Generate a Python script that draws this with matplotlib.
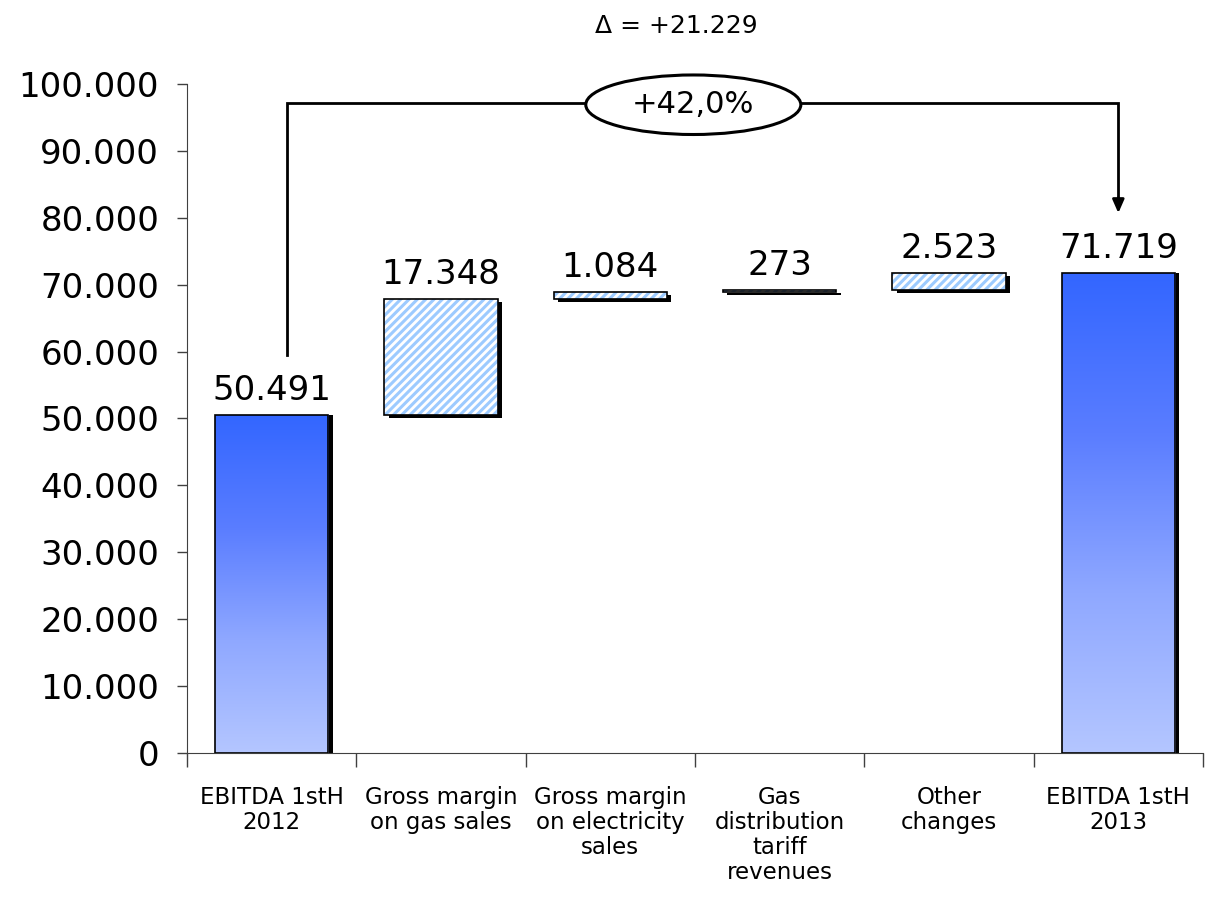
import numpy as np
import matplotlib
matplotlib.use("Agg")
import matplotlib.pyplot as plt
from matplotlib.patches import Ellipse
from matplotlib.colors import LinearSegmentedColormap

# ---- data ----
categories = ["EBITDA 1stH\n2012", "Gross margin\non gas sales", "Gross margin\non electricity\nsales",
              "Gas\ndistribution\ntariff\nrevenues", "Other\nchanges", "EBITDA 1stH\n2013"]
start_value = 50491
changes = [17348, 1084, 273, 2523]
end_value = 71719
value_labels = ["50.491", "17.348", "1.084", "273", "2.523", "71.719"]
yticks = [0, 10000, 20000, 30000, 40000, 50000, 60000, 70000, 80000, 90000, 100000]
ytick_labels = ["0", "10.000", "20.000", "30.000", "40.000", "50.000", "60.000",
                "70.000", "80.000", "90.000", "100.000"]
delta_text = "\u0394 = +21.229"
pct_text = "+42,0%"

plt.rcParams["font.family"] = ["DejaVu Sans"]
plt.rcParams["hatch.linewidth"] = 2.2

fig = plt.figure(figsize=(12.13, 8.98), dpi=100)
W, H = 1213, 898
ax = fig.add_axes([187 / W, (H - 753) / H, (1203 - 187) / W, (753 - 84) / H])
ax.set_xlim(-0.5, 5.5)
ax.set_ylim(0, 100000)

bw = 0.67
sx = 0.025   # shadow offset (x, data)
sy = 450     # shadow offset (y, data)

grad = LinearSegmentedColormap.from_list("g", ["#B4C6FF", "#8FA8FF", "#5A7DFF", "#3366FF"])
gimg = np.linspace(0, 1, 256).reshape(-1, 1)

def total_bar(x, h):
    ax.bar(x + sx, h, bw, bottom=0, color="black", zorder=2)
    ax.imshow(gimg, cmap=grad, origin="lower", aspect="auto",
              extent=[x - bw / 2, x + bw / 2, 0, h], zorder=3)
    ax.bar(x, h, bw, bottom=0, fill=False, edgecolor="black", linewidth=1.2, zorder=4)

def float_bar(x, b, h):
    ax.bar(x + sx, h, bw, bottom=b - sy, color="black", zorder=2)
    ax.bar(x, h, bw, bottom=b, facecolor="white", edgecolor="#9DCBFF", hatch="////",
           linewidth=0, zorder=3)
    ax.bar(x, h, bw, bottom=b, fill=False, edgecolor="black", linewidth=1.2, zorder=4)

total_bar(0, start_value)
running = start_value
tops = [start_value]
for i, c in enumerate(changes):
    float_bar(i + 1, running, c)
    running += c
    tops.append(running)
total_bar(5, end_value)
tops.append(end_value)

for i, (t, lab) in enumerate(zip(tops, value_labels)):
    ax.annotate(lab, (i, t), xytext=(0, 6), textcoords="offset points",
                ha="center", va="bottom", fontsize=24.5, zorder=5)

# axes styling
for s in ["top", "right"]:
    ax.spines[s].set_visible(False)
ax.spines["left"].set_color("#404040")
ax.spines["bottom"].set_color("#404040")
ax.set_yticks(yticks)
ax.set_yticklabels(ytick_labels, fontsize=24.5)
ax.tick_params(axis="y", length=7, width=1, direction="out", pad=13, color="#404040")
ax.set_xticks(np.arange(-0.5, 6.0, 1.0))
ax.set_xticklabels([])
ax.tick_params(axis="x", which="major", length=10, width=1, direction="out", color="#404040")
ax.set_xticks(np.arange(6), minor=True)
ax.set_xticklabels(categories, minor=True, fontsize=16.5, linespacing=1.1)
ax.tick_params(axis="x", which="minor", length=0, pad=24)

# bracket
ybr = 97200
xl = 0.09
ax.plot([xl, xl, 5, 5], [59500, ybr, ybr, 82500], color="black", linewidth=2,
        clip_on=False, zorder=6, solid_joinstyle="miter")
ax.annotate("", xy=(5, 80700), xytext=(5, 83000),
            arrowprops=dict(arrowstyle="-|>,head_length=0.8,head_width=0.35",
                            color="black", lw=2, shrinkA=0, shrinkB=0),
            annotation_clip=False, zorder=6)
ell = Ellipse((2.49, 96900), 1.27, 8900, facecolor="white", edgecolor="black",
              linewidth=2.2, clip_on=False, zorder=7)
ax.add_patch(ell)
ax.text(2.49, 96900, pct_text, ha="center", va="center", fontsize=22,
        zorder=8, clip_on=False)
ax.text(2.39, 108700, delta_text, ha="center", va="center", fontsize=18, clip_on=False)

fig.savefig("out.png", dpi=100)
